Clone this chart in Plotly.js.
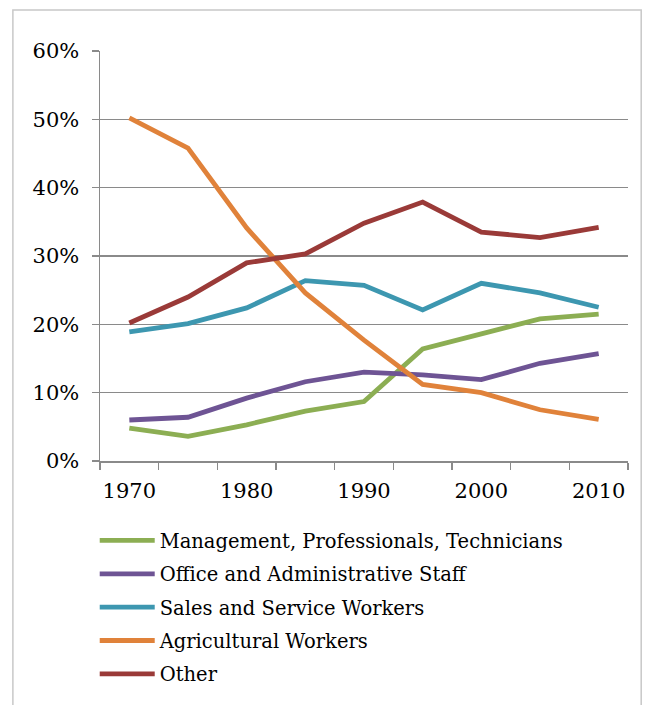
<!DOCTYPE html>
<html>
<head>
<meta charset="utf-8">
<script src="https://cdn.plot.ly/plotly-3.0.1.min.js"></script>
<style>
  html, body { margin: 0; padding: 0; background: #fff; }
  #chart { width: 652px; height: 705px; }
</style>
</head>
<body>
<div id="chart"></div>
<script>
const years = [1970, 1975, 1980, 1985, 1990, 1995, 2000, 2005, 2010];
const tickYears = [1970, 1980, 1990, 2000, 2010];
const seriesNames = [
  "Management, Professionals, Technicians",
  "Office and Administrative Staff",
  "Sales and Service Workers",
  "Agricultural Workers",
  "Other"
];
const management = [4.8, 3.6, 5.3, 7.3, 8.7, 16.4, 18.6, 20.8, 21.5];
const office     = [6.0, 6.4, 9.2, 11.6, 13.0, 12.6, 11.9, 14.3, 15.7];
const sales      = [18.9, 20.1, 22.4, 26.4, 25.7, 22.1, 26.0, 24.6, 22.5];
const agri       = [50.2, 45.8, 34.1, 24.6, 17.7, 11.2, 10.0, 7.5, 6.1];
const other      = [20.2, 24.0, 29.0, 30.3, 34.8, 37.9, 33.5, 32.7, 34.2];
const colors = ["#8cae53", "#6e5494", "#3d97b0", "#e0823a", "#9a3a38"];

const values = [management, office, sales, agri, other];
const FONT = "'DejaVu Serif', 'Liberation Serif', serif";

const traces = values.map((v, i) => ({
  x: years,
  y: v,
  name: seriesNames[i],
  type: "scatter",
  mode: "lines",
  legendgroup: "g" + i,
  line: { color: colors[i], width: 4.8 },
  hoverinfo: "x+y+name"
}));

const layout = {
  width: 652,
  height: 705,
  margin: { l: 100, r: 24, t: 51, b: 244, autoexpand: false },
  paper_bgcolor: "#ffffff",
  plot_bgcolor: "#ffffff",
  font: { family: FONT, color: "#000", size: 19 },
  showlegend: true,
  legend: {
    x: -0.01, xanchor: "left",
    y: -0.147, yanchor: "top",
    font: { family: FONT, size: 19.5, color: "#000" },
    traceorder: "grouped",
    tracegroupgap: 5,
    itemwidth: 55,
    bgcolor: "rgba(0,0,0,0)"
  },
  xaxis: {
    type: "linear",
    range: [1967.5, 2012.5],
    tickvals: tickYears,
    ticktext: tickYears.map(String),
    ticks: "",
    showgrid: false,
    zeroline: false,
    showline: true,
    linecolor: "#8a8a8a",
    linewidth: 1.5,
    tickfont: { family: FONT, size: 21, color: "#000" },
    tickangle: 0,
    ticklabelstandoff: 10,
    minor: {
      tick0: 1967.5,
      dtick: 5,
      ticks: "outside",
      ticklen: 7,
      tickwidth: 1.5,
      tickcolor: "#8a8a8a",
      showgrid: false
    },
    fixedrange: true
  },
  yaxis: {
    range: [0, 60],
    dtick: 10,
    tick0: 0,
    ticksuffix: "%",
    ticks: "outside",
    ticklen: 7,
    tickwidth: 1.5,
    tickcolor: "#8a8a8a",
    showgrid: true,
    gridcolor: "#8a8a8a",
    gridwidth: 1.5,
    zeroline: false,
    showline: true,
    linecolor: "#8a8a8a",
    linewidth: 1.5,
    tickfont: { family: FONT, size: 21, color: "#000" },
    ticklabelstandoff: 8,
    fixedrange: true
  },
  shapes: [
    {
      type: "rect", xref: "paper", yref: "paper",
      x0: -0.165, x1: 1.025, y0: -0.75, y1: 1.1,
      line: { color: "#c8c8c8", width: 1.5 },
      fillcolor: "rgba(0,0,0,0)",
      layer: "below"
    }
  ]
};

Plotly.newPlot("chart", traces, layout, { displayModeBar: false, staticPlot: true });
</script>
</body>
</html>
